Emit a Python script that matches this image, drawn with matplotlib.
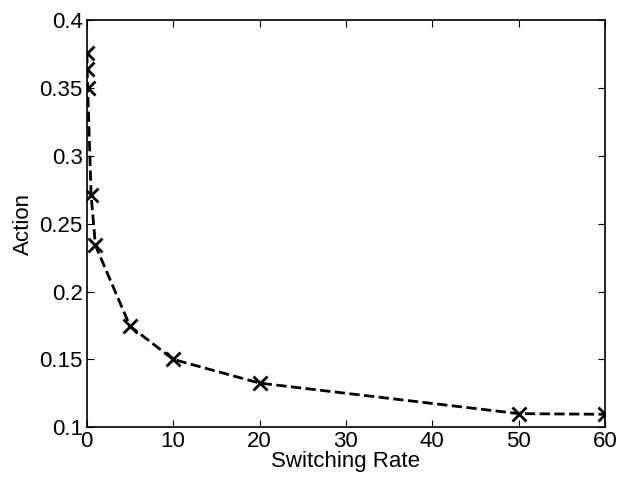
import numpy as np
import matplotlib.pyplot as plt

plt.rcParams['font.family'] = ['Liberation Sans', 'DejaVu Sans']

# switching rate vs action
rate = [0.01, 0.05, 0.1, 0.5, 1, 5, 10, 20, 50, 60]
action = [0.376, 0.364, 0.350, 0.271, 0.234, 0.1745, 0.150, 0.1325, 0.110, 0.1095]

fig = plt.figure(figsize=(6.2, 4.8), dpi=100)
ax = fig.add_axes([0.140, 0.110, 0.836, 0.848])

ax.plot(rate, action, 'k--x', linewidth=2, markersize=10, markeredgewidth=2)

ax.set_xlim(0, 60)
ax.set_ylim(0.1, 0.4)
ax.set_xticks(np.arange(0, 61, 10))
ax.set_yticks([0.1, 0.15, 0.2, 0.25, 0.3, 0.35, 0.4])
ax.set_yticklabels(['0.1', '0.15', '0.2', '0.25', '0.3', '0.35', '0.4'])
ax.tick_params(direction='in', top=True, right=True, labelsize=16, length=5)
ax.tick_params(axis='x', pad=3)
ax.tick_params(axis='y', pad=3)
for s in ax.spines.values():
    s.set_linewidth(1.2)

ax.set_xlabel('Switching Rate', fontsize=16, labelpad=-1)
ax.set_ylabel('Action', fontsize=16, labelpad=4)

fig.savefig('out.png', dpi=100)
